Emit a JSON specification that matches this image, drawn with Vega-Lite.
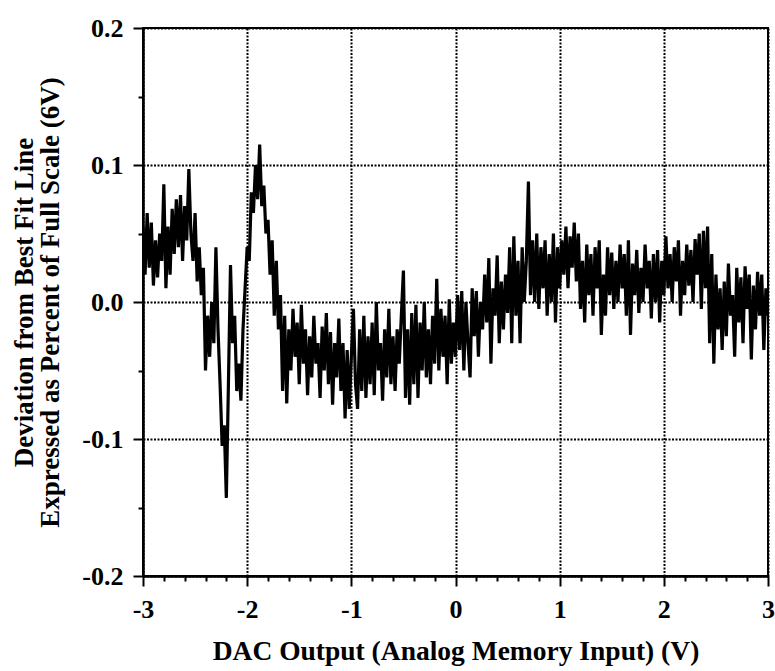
{
  "$schema": "https://vega.github.io/schema/vega-lite/v6.json",
  "width": 625,
  "height": 548,
  "autosize": {"type": "none"},
  "padding": {"left": 143, "top": 28, "right": 7, "bottom": 95},
  "background": "white",
  "config": {
    "view": {"stroke": "#000", "strokeWidth": 2},
    "font": "Liberation Serif"
  },
  "data": {"values": [
    {"x":-3.00,"y":0.055},{"x":-2.98,"y":0.02},{"x":-2.96,"y":0.065},{"x":-2.94,"y":0.025},{"x":-2.92,"y":0.058},
    {"x":-2.90,"y":0.012},{"x":-2.88,"y":0.045},{"x":-2.86,"y":0.018},{"x":-2.84,"y":0.05},{"x":-2.82,"y":0.03},
    {"x":-2.80,"y":0.086},{"x":-2.78,"y":0.01},{"x":-2.76,"y":0.055},{"x":-2.74,"y":0.02},{"x":-2.72,"y":0.068},
    {"x":-2.70,"y":0.035},{"x":-2.68,"y":0.075},{"x":-2.66,"y":0.04},{"x":-2.64,"y":0.078},{"x":-2.62,"y":0.03},
    {"x":-2.60,"y":0.07},{"x":-2.58,"y":0.045},{"x":-2.56,"y":0.097},{"x":-2.54,"y":0.05},{"x":-2.52,"y":0.03},
    {"x":-2.50,"y":0.065},{"x":-2.48,"y":0.015},{"x":-2.46,"y":0.04},{"x":-2.44,"y":0.005},{"x":-2.42,"y":0.025},
    {"x":-2.40,"y":-0.05},{"x":-2.38,"y":-0.01},{"x":-2.36,"y":-0.04},{"x":-2.34,"y":0.0},{"x":-2.32,"y":-0.03},
    {"x":-2.30,"y":0.04},{"x":-2.28,"y":-0.02},{"x":-2.26,"y":-0.06},{"x":-2.24,"y":-0.105},{"x":-2.22,"y":-0.09},
    {"x":-2.20,"y":-0.143},{"x":-2.18,"y":-0.06},{"x":-2.16,"y":0.027},{"x":-2.14,"y":-0.03},{"x":-2.12,"y":-0.01},
    {"x":-2.10,"y":-0.065},{"x":-2.08,"y":-0.045},{"x":-2.06,"y":-0.072},{"x":-2.04,"y":-0.02},{"x":-2.02,"y":0.01},
    {"x":-2.00,"y":0.04},{"x":-1.98,"y":0.03},{"x":-1.96,"y":0.08},{"x":-1.94,"y":0.065},{"x":-1.92,"y":0.1},
    {"x":-1.90,"y":0.075},{"x":-1.88,"y":0.115},{"x":-1.86,"y":0.07},{"x":-1.84,"y":0.085},{"x":-1.82,"y":0.05},
    {"x":-1.80,"y":0.06},{"x":-1.78,"y":0.02},{"x":-1.76,"y":0.045},{"x":-1.74,"y":-0.01},{"x":-1.72,"y":0.03},
    {"x":-1.70,"y":-0.02},{"x":-1.68,"y":0.005},{"x":-1.66,"y":-0.065},{"x":-1.64,"y":-0.01},{"x":-1.62,"y":-0.074},
    {"x":-1.60,"y":-0.02},{"x":-1.58,"y":-0.05},{"x":-1.56,"y":-0.005},{"x":-1.54,"y":-0.04},{"x":-1.52,"y":-0.015},
    {"x":-1.50,"y":-0.06},{"x":-1.48,"y":-0.002},{"x":-1.46,"y":-0.045},{"x":-1.44,"y":-0.02},{"x":-1.42,"y":-0.068},
    {"x":-1.40,"y":-0.025},{"x":-1.38,"y":-0.055},{"x":-1.36,"y":-0.01},{"x":-1.34,"y":-0.045},{"x":-1.32,"y":-0.03},
    {"x":-1.30,"y":-0.07},{"x":-1.28,"y":-0.018},{"x":-1.26,"y":-0.05},{"x":-1.24,"y":-0.008},{"x":-1.22,"y":-0.06},
    {"x":-1.20,"y":-0.022},{"x":-1.18,"y":-0.075},{"x":-1.16,"y":-0.03},{"x":-1.14,"y":-0.055},{"x":-1.12,"y":-0.012},
    {"x":-1.10,"y":-0.065},{"x":-1.08,"y":-0.03},{"x":-1.06,"y":-0.085},{"x":-1.04,"y":-0.035},{"x":-1.02,"y":-0.078},
    {"x":-1.00,"y":-0.04},{"x":-0.98,"y":-0.005},{"x":-0.96,"y":-0.06},{"x":-0.94,"y":-0.078},{"x":-0.92,"y":-0.02},
    {"x":-0.90,"y":-0.065},{"x":-0.88,"y":-0.01},{"x":-0.86,"y":-0.07},{"x":-0.84,"y":-0.025},{"x":-0.82,"y":-0.06},
    {"x":-0.80,"y":-0.015},{"x":-0.78,"y":-0.068},{"x":-0.76,"y":0.0},{"x":-0.74,"y":-0.05},{"x":-0.72,"y":-0.03},
    {"x":-0.70,"y":-0.072},{"x":-0.68,"y":-0.02},{"x":-0.66,"y":-0.055},{"x":-0.64,"y":-0.005},{"x":-0.62,"y":-0.06},
    {"x":-0.60,"y":-0.025},{"x":-0.58,"y":-0.065},{"x":-0.56,"y":-0.02},{"x":-0.54,"y":-0.045},{"x":-0.52,"y":-0.01},
    {"x":-0.50,"y":0.023},{"x":-0.48,"y":-0.07},{"x":-0.46,"y":-0.02},{"x":-0.44,"y":-0.075},{"x":-0.42,"y":-0.008},
    {"x":-0.40,"y":-0.06},{"x":-0.38,"y":-0.002},{"x":-0.36,"y":-0.07},{"x":-0.34,"y":-0.015},{"x":-0.32,"y":-0.05},
    {"x":-0.30,"y":0.0},{"x":-0.28,"y":-0.055},{"x":-0.26,"y":-0.02},{"x":-0.24,"y":-0.06},{"x":-0.22,"y":-0.01},
    {"x":-0.20,"y":-0.045},{"x":-0.18,"y":0.017},{"x":-0.16,"y":-0.05},{"x":-0.14,"y":-0.005},{"x":-0.12,"y":-0.04},
    {"x":-0.10,"y":-0.01},{"x":-0.08,"y":-0.06},{"x":-0.06,"y":0.002},{"x":-0.04,"y":-0.045},{"x":-0.02,"y":-0.015},
    {"x":0.00,"y":-0.04},{"x":0.02,"y":0.005},{"x":0.04,"y":-0.035},{"x":0.06,"y":0.008},{"x":0.08,"y":-0.05},
    {"x":0.10,"y":0.0},{"x":0.12,"y":-0.03},{"x":0.14,"y":-0.055},{"x":0.16,"y":0.01},{"x":0.18,"y":-0.025},
    {"x":0.20,"y":0.008},{"x":0.22,"y":-0.04},{"x":0.24,"y":0.0},{"x":0.26,"y":-0.02},{"x":0.28,"y":0.02},
    {"x":0.30,"y":-0.015},{"x":0.32,"y":0.032},{"x":0.34,"y":-0.045},{"x":0.36,"y":0.01},{"x":0.38,"y":-0.01},
    {"x":0.40,"y":0.034},{"x":0.42,"y":-0.03},{"x":0.44,"y":0.015},{"x":0.46,"y":-0.02},{"x":0.48,"y":0.02},
    {"x":0.50,"y":-0.008},{"x":0.52,"y":0.04},{"x":0.54,"y":-0.03},{"x":0.56,"y":0.048},{"x":0.58,"y":-0.01},
    {"x":0.60,"y":0.03},{"x":0.62,"y":-0.03},{"x":0.64,"y":0.04},{"x":0.66,"y":0.0},{"x":0.68,"y":0.03},
    {"x":0.70,"y":0.088},{"x":0.72,"y":0.005},{"x":0.74,"y":0.045},{"x":0.76,"y":0.0},{"x":0.78,"y":0.05},
    {"x":0.80,"y":-0.005},{"x":0.82,"y":0.04},{"x":0.84,"y":0.01},{"x":0.86,"y":0.045},{"x":0.88,"y":-0.01},
    {"x":0.90,"y":0.035},{"x":0.92,"y":0.0},{"x":0.94,"y":0.05},{"x":0.96,"y":-0.015},{"x":0.98,"y":0.04},
    {"x":1.00,"y":0.01},{"x":1.02,"y":0.045},{"x":1.04,"y":0.02},{"x":1.06,"y":0.055},{"x":1.08,"y":0.01},
    {"x":1.10,"y":0.048},{"x":1.12,"y":0.025},{"x":1.14,"y":0.058},{"x":1.16,"y":0.015},{"x":1.18,"y":0.05},
    {"x":1.20,"y":-0.005},{"x":1.22,"y":0.03},{"x":1.24,"y":-0.015},{"x":1.26,"y":0.042},{"x":1.28,"y":0.005},
    {"x":1.30,"y":0.035},{"x":1.32,"y":-0.01},{"x":1.34,"y":0.04},{"x":1.36,"y":0.01},{"x":1.38,"y":0.045},
    {"x":1.40,"y":-0.024},{"x":1.42,"y":0.02},{"x":1.44,"y":-0.01},{"x":1.46,"y":0.04},{"x":1.48,"y":0.005},
    {"x":1.50,"y":0.036},{"x":1.52,"y":-0.005},{"x":1.54,"y":0.03},{"x":1.56,"y":0.0},{"x":1.58,"y":0.042},
    {"x":1.60,"y":0.01},{"x":1.62,"y":0.035},{"x":1.64,"y":-0.01},{"x":1.66,"y":0.045},{"x":1.68,"y":-0.024},
    {"x":1.70,"y":0.028},{"x":1.72,"y":0.005},{"x":1.74,"y":0.038},{"x":1.76,"y":-0.008},{"x":1.78,"y":0.025},
    {"x":1.80,"y":0.0},{"x":1.82,"y":0.042},{"x":1.84,"y":0.01},{"x":1.86,"y":0.03},{"x":1.88,"y":-0.012},
    {"x":1.90,"y":0.035},{"x":1.92,"y":0.0},{"x":1.94,"y":0.038},{"x":1.96,"y":-0.015},{"x":1.98,"y":0.03},
    {"x":2.00,"y":0.005},{"x":2.02,"y":0.048},{"x":2.04,"y":0.01},{"x":2.06,"y":0.035},{"x":2.08,"y":0.0},
    {"x":2.10,"y":0.04},{"x":2.12,"y":0.015},{"x":2.14,"y":0.045},{"x":2.16,"y":-0.01},{"x":2.18,"y":0.03},
    {"x":2.20,"y":0.005},{"x":2.22,"y":0.042},{"x":2.24,"y":0.012},{"x":2.26,"y":0.038},{"x":2.28,"y":0.0},
    {"x":2.30,"y":0.046},{"x":2.32,"y":0.02},{"x":2.34,"y":0.05},{"x":2.36,"y":-0.005},{"x":2.38,"y":0.052},
    {"x":2.40,"y":0.01},{"x":2.42,"y":0.055},{"x":2.44,"y":-0.03},{"x":2.46,"y":0.035},{"x":2.48,"y":-0.045},
    {"x":2.50,"y":0.02},{"x":2.52,"y":-0.02},{"x":2.54,"y":0.01},{"x":2.56,"y":-0.035},{"x":2.58,"y":0.015},
    {"x":2.60,"y":-0.025},{"x":2.62,"y":0.028},{"x":2.64,"y":-0.01},{"x":2.66,"y":0.005},{"x":2.68,"y":-0.04},
    {"x":2.70,"y":0.025},{"x":2.72,"y":-0.015},{"x":2.74,"y":0.018},{"x":2.76,"y":-0.03},{"x":2.78,"y":0.026},
    {"x":2.80,"y":-0.005},{"x":2.82,"y":0.02},{"x":2.84,"y":-0.042},{"x":2.86,"y":0.012},{"x":2.88,"y":-0.02},
    {"x":2.90,"y":0.022},{"x":2.92,"y":-0.01},{"x":2.94,"y":0.02},{"x":2.96,"y":-0.035},{"x":2.98,"y":0.01},
    {"x":3.00,"y":-0.01}
  ]},
  "mark": {"type": "line", "color": "#000", "strokeWidth": 3.2, "clip": true},
  "encoding": {
    "x": {
      "field": "x", "type": "quantitative",
      "scale": {"domain": [-3, 3], "nice": false, "zero": false},
      "axis": {
        "values": [-3,-2.8,-2.6,-2.4,-2.2,-2,-1.8,-1.6,-1.4,-1.2,-1,-0.8,-0.6,-0.4,-0.2,0,0.2,0.4,0.6,0.8,1,1.2,1.4,1.6,1.8,2,2.2,2.4,2.6,2.8,3],
        "labelExpr": "abs(datum.value - round(datum.value)) < 0.001 ? '' + round(datum.value) : ''",
        "labelFont": "Liberation Serif", "labelFontWeight": "bold", "labelFontSize": 26, "labelColor": "#000",
        "labelPadding": 10, "labelOverlap": false, "labelFlush": false,
        "tickColor": "#000", "tickWidth": 2,
        "tickSize": {"condition": {"test": "abs(datum.value - round(datum.value)) < 0.001", "value": 10}, "value": 5},
        "domainColor": "#000", "domainWidth": 2.5,
        "grid": true, "gridColor": "#000", "gridWidth": 2, "gridDash": [2, 1.5],
        "gridOpacity": {"condition": {"test": "abs(datum.value - round(datum.value)) < 0.001", "value": 1}, "value": 0},
        "title": "DAC Output (Analog Memory Input) (V)",
        "titleFont": "Liberation Serif", "titleFontWeight": "bold", "titleFontSize": 27.5, "titleColor": "#000",
        "titlePadding": 15
      }
    },
    "y": {
      "field": "y", "type": "quantitative",
      "scale": {"domain": [-0.2, 0.2], "nice": false, "zero": false},
      "axis": {
        "values": [-0.2,-0.15,-0.1,-0.05,0,0.05,0.1,0.15,0.2],
        "labelExpr": "abs(datum.value*10 - round(datum.value*10)) < 0.001 ? (datum.value < -0.001 ? '-' : '') + format(abs(datum.value), '.1f') : ''",
        "labelFont": "Liberation Serif", "labelFontWeight": "bold", "labelFontSize": 26, "labelColor": "#000",
        "labelPadding": 10, "labelOverlap": false, "labelFlush": false,
        "tickColor": "#000", "tickWidth": 2,
        "tickSize": {"condition": {"test": "abs(datum.value*10 - round(datum.value*10)) < 0.001", "value": 10}, "value": 5},
        "domainColor": "#000", "domainWidth": 2.5,
        "grid": true, "gridColor": "#000", "gridWidth": 2, "gridDash": [2, 1.5],
        "gridOpacity": {"condition": {"test": "abs(datum.value*10 - round(datum.value*10)) < 0.001", "value": 1}, "value": 0},
        "title": ["Deviation from Best Fit Line", "Expressed as Percent of Full Scale (6V)"],
        "titleFont": "Liberation Serif", "titleFontWeight": "bold", "titleFontSize": 27, "titleColor": "#000",
        "titleLineHeight": 26, "titlePadding": 17
      }
    }
  }
}
